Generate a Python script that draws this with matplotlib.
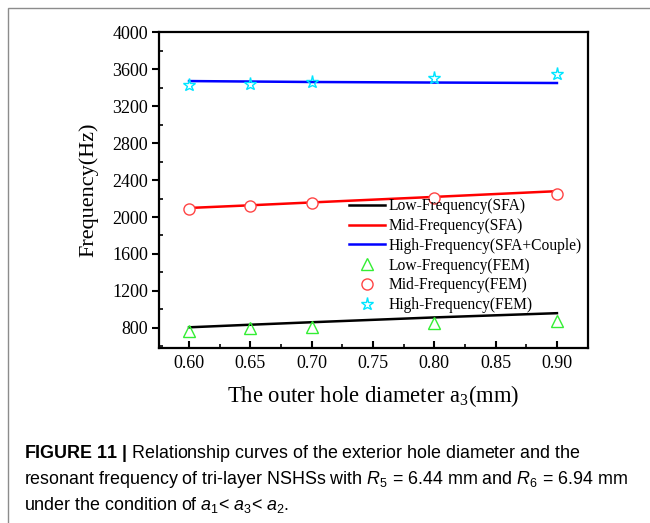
import numpy as np
import matplotlib.pyplot as plt
from matplotlib.patches import Rectangle
from matplotlib.ticker import MultipleLocator

plt.rcParams['font.family'] = ['Liberation Serif', 'DejaVu Serif']
plt.rcParams['mathtext.fontset'] = 'custom'
plt.rcParams['mathtext.rm'] = 'Liberation Serif'
plt.rcParams['mathtext.it'] = 'Liberation Sans:italic'
plt.rcParams['mathtext.sf'] = 'Liberation Sans'
plt.rcParams['mathtext.bf'] = 'Liberation Sans:bold'

# outer hole diameter a3 (mm)
a3 = [0.60, 0.65, 0.70, 0.80, 0.90]

# analytical (SFA) curves
low_sfa = [805, 833, 860, 912, 958]
mid_sfa = [2098, 2127, 2158, 2218, 2280]
high_sfa = [3473, 3468, 3463, 3457, 3452]

# finite element results
low_fem = [768, 793, 812, 848, 877]
mid_fem = [2091, 2124, 2152, 2206, 2246]
high_fem = [3425, 3443, 3468, 3504, 3547]

fig = plt.figure(figsize=(6.5, 5.23), dpi=100)
ax = fig.add_axes([0.245, 0.335, 0.659, 0.603])

ax.plot(a3, low_sfa, color='black', lw=1.8, label='Low-Frequency(SFA)')
ax.plot(a3, mid_sfa, color='#ff0000', lw=1.8, label='Mid-Frequency(SFA)')
ax.plot(a3, high_sfa, color='#0000ff', lw=1.8, label='High-Frequency(SFA+Couple)')
ax.plot(a3, low_fem, ls='none', marker='^', ms=8.5, mfc='none', mec='#33ee33', mew=1.0,
        label='Low-Frequency(FEM)')
ax.plot(a3, mid_fem, ls='none', marker='o', ms=8, mfc='white', mec='#ff4444', mew=1.0,
        label='Mid-Frequency(FEM)')
ax.plot(a3, high_fem, ls='none', marker='*', ms=9.5, mfc='none', mec='#00e5ff', mew=1.0,
        label='High-Frequency(FEM)')

ax.set_xlim(0.5757, 0.925)
ax.set_ylim(583, 4000)
ax.set_xticks([0.60, 0.65, 0.70, 0.75, 0.80, 0.85, 0.90])
ax.set_xticklabels(['0.60', '0.65', '0.70', '0.75', '0.80', '0.85', '0.90'])
ax.set_yticks(np.arange(800, 4001, 400))
ax.xaxis.set_minor_locator(MultipleLocator(0.025))
ax.yaxis.set_minor_locator(MultipleLocator(200))

for s in ax.spines.values():
    s.set_linewidth(1.6)
ax.tick_params(axis='x', which='major', direction='in', length=5, width=1.5,
               labelsize=13, pad=5)
ax.tick_params(axis='x', which='minor', direction='in', length=3, width=1.2)
ax.tick_params(axis='y', which='major', direction='out', length=5, width=1.5,
               labelsize=13, pad=3)
ax.tick_params(axis='y', which='minor', direction='in', length=3, width=1.2)

ax.set_xlabel('The outer hole diameter a$_3$(mm)', fontsize=16.3, labelpad=8)
ax.set_ylabel('Frequency(Hz)', fontsize=16, labelpad=10)

ax.legend(loc='center left', bbox_to_anchor=(0.443, 0.292), frameon=False,
          fontsize=11.2, handlelength=2.3, handletextpad=0.25, labelspacing=0.24,
          borderpad=0, borderaxespad=0, numpoints=1)

# page frame around the figure panel
fig.patches.append(Rectangle((8 / 650, -0.1), 1.2, 1 - 8 / 523 + 0.1,
                             transform=fig.transFigure, fill=False,
                             edgecolor='#8c8c8c', lw=1.0))

caption_font = ['Liberation Sans Narrow', 'Liberation Sans', 'DejaVu Sans']
fig.text(24 / 650, 1 - 454 / 523,
         r'$\mathbf{FIGURE\ 11\ |}$ Relationship curves of the exterior hole diameter and the',
         fontsize=12.9, family=caption_font, va='center')
fig.text(24 / 650, 1 - 480 / 523,
         r'resonant frequency of tri-layer NSHSs with $R_\mathsf{5}$ = 6.44 mm and $R_\mathsf{6}$ = 6.94 mm',
         fontsize=12.9, family=caption_font, va='center')
fig.text(24 / 650, 1 - 505 / 523,
         r'under the condition of $a_\mathsf{1}$< $a_\mathsf{3}$< $a_\mathsf{2}$.',
         fontsize=12.9, family=caption_font, va='center')

fig.savefig('out.png', dpi=100)
